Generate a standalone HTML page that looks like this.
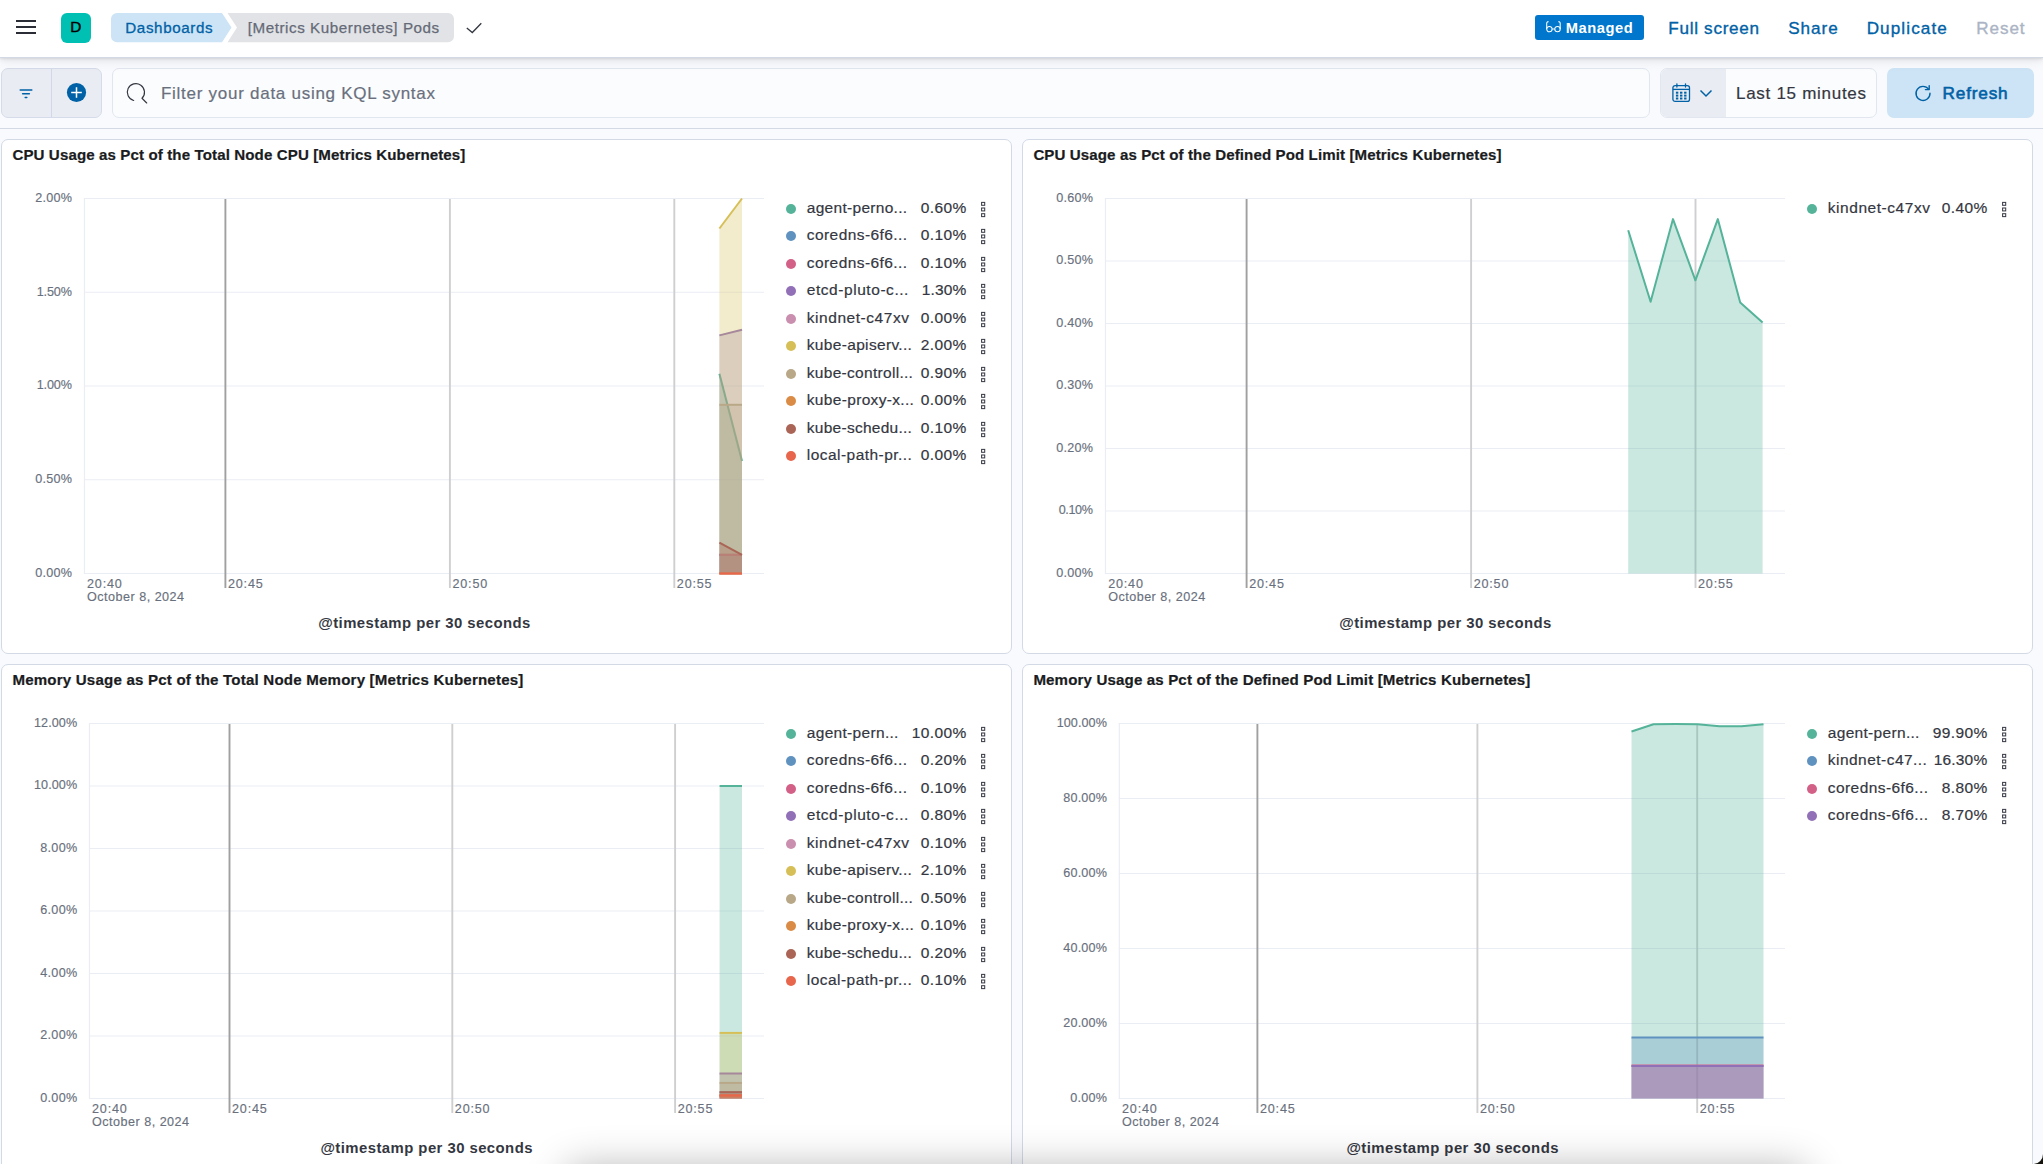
<!DOCTYPE html><html><head><meta charset="utf-8"><title>[Metrics Kubernetes] Pods</title><style>html,body{margin:0;padding:0;width:2043px;height:1164px;overflow:hidden;background:#f8fafd}#root{position:absolute;left:0;top:0;width:2043px;height:1164px;overflow:hidden;background:#f8fafd;font-family:"Liberation Sans",sans-serif}.t{position:absolute;white-space:pre;display:block}</style></head><body><div id="root">
<div id="hdr" style="position:absolute;left:0;top:0;width:2043px;height:58px;background:#fff;border-bottom:1px solid #d3dae6;box-sizing:border-box;box-shadow:0 1px 2px rgba(0,0,0,.07),0 2px 5px rgba(0,0,0,.06),0 5px 11px rgba(0,0,0,.05);z-index:5"></div>
<div style="position:absolute;left:0;top:0;width:2043px;height:57px;z-index:6">
<div style="position:absolute;left:16px;top:19.6px;width:20px;height:2.3px;background:#2b2d36"></div>
<div style="position:absolute;left:16px;top:25.8px;width:20px;height:2.3px;background:#2b2d36"></div>
<div style="position:absolute;left:16px;top:31.9px;width:20px;height:2.3px;background:#2b2d36"></div>
<div style="position:absolute;left:61px;top:13px;width:30px;height:30px;background:#00bfb3;border-radius:6px"></div>
<span class="t" style="left:70.28px;top:16.78px;font-size:15.4px;line-height:20px;letter-spacing:0.326px;color:#000;-webkit-text-stroke:.45px #000;">D</span>
<svg style="position:absolute;left:0;top:0" width="520" height="57" viewBox="0 0 520 57"><path d="M117 13 H222 L231.5 27.6 L222 42.2 H117 a6 6 0 0 1 -6 -6 V19 a6 6 0 0 1 6 -6z" fill="#cce4f5"/><path d="M227.5 13 H448 a6 6 0 0 1 6 6 V36.2 a6 6 0 0 1 -6 6 H227.5 L237 27.6z" fill="#e2e3e6"/><path d="M466.8 28 L472.3 32.5 L481.3 23.3" fill="none" stroke="#343741" stroke-width="1.3"/></svg>
<span class="t" style="left:125.29px;top:17.77px;font-size:15.2px;line-height:20px;letter-spacing:0.607px;color:#0061a6;-webkit-text-stroke:.3px #0061a6;">Dashboards</span>
<span class="t" style="left:247.69px;top:17.77px;font-size:15.2px;line-height:20px;letter-spacing:0.557px;color:#646a77;-webkit-text-stroke:.25px #646a77;">[Metrics Kubernetes] Pods</span>
<div style="position:absolute;left:1535px;top:15px;width:109px;height:25px;background:#0077cc;border-radius:3px"></div>
<svg style="position:absolute;left:1545px;top:20px" width="18" height="14" viewBox="0 0 18 14"><g fill="none" stroke="#fff" stroke-width="1.05"><circle cx="4.4" cy="9.1" r="2.7"/><circle cx="12.5" cy="9.1" r="2.7"/><path d="M7.1 9 H9.8 M1.7 9 V3.3 q0 -1.7 1.8 -1.7 M15.2 9 V3.3 q0 -1.7 -1.8 -1.7"/></g></svg>
<span class="t" style="left:1565.82px;top:19.47px;font-size:14.7px;line-height:19px;letter-spacing:0.559px;color:#fff;font-weight:700;">Managed</span>
<span class="t" style="left:1668.27px;top:17.90px;font-size:17.1px;line-height:22px;letter-spacing:0.712px;color:#0061a6;-webkit-text-stroke:.35px #0061a6;">Full screen</span>
<span class="t" style="left:1788.27px;top:17.90px;font-size:17.1px;line-height:22px;letter-spacing:0.955px;color:#0061a6;-webkit-text-stroke:.35px #0061a6;">Share</span>
<span class="t" style="left:1866.67px;top:17.90px;font-size:17.1px;line-height:22px;letter-spacing:1.108px;color:#0061a6;-webkit-text-stroke:.35px #0061a6;">Duplicate</span>
<span class="t" style="left:1976.17px;top:17.90px;font-size:17.1px;line-height:22px;letter-spacing:0.945px;color:#abb4c4;-webkit-text-stroke:.35px #abb4c4;">Reset</span>
</div>
<div style="position:absolute;left:0px;top:128px;width:2043px;height:1px;background:#d3dae6"></div>
<div style="position:absolute;left:1px;top:68px;width:101px;height:50px;background:#e9edf3;border:1px solid #d6dbe9;border-radius:7px;box-sizing:border-box"></div>
<div style="position:absolute;left:51px;top:69px;width:1px;height:48px;background:#d2d8e7"></div>
<svg style="position:absolute;left:16px;top:84px" width="20" height="20" viewBox="0 0 20 20"><g stroke="#0061a6" stroke-width="1.5" stroke-linecap="round"><path d="M4.2 6 H15.8"/><path d="M6.6 9.8 H13.4"/><path d="M9.2 13.4 H10.8"/></g></svg>
<svg style="position:absolute;left:66px;top:82px" width="22" height="22" viewBox="0 0 22 22"><circle cx="10.5" cy="10.5" r="9.6" fill="#0061a6"/><path d="M10.5 5.2 V15.8 M5.2 10.5 H15.8" stroke="#fff" stroke-width="1.5"/></svg>
<div style="position:absolute;left:112px;top:68px;width:1538px;height:50px;background:#fbfcfd;border:1px solid #e2e6ef;border-radius:7px;box-sizing:border-box"></div>
<svg style="position:absolute;left:124px;top:80px" width="28" height="28" viewBox="0 0 28 28"><g fill="none" stroke="#343741" stroke-width="1.15"><path d="M9.67 20.51 A8.6 8.6 0 1 1 17.98 18.28 L22.7 23" stroke-linecap="round" stroke-linejoin="round"/></g></svg>
<span class="t" style="left:160.98px;top:82.70px;font-size:17px;line-height:22px;letter-spacing:0.729px;color:#69707d;-webkit-text-stroke:.2px #69707d;">Filter your data using KQL syntax</span>
<div style="position:absolute;left:1660px;top:68px;width:217px;height:50px;background:#fbfcfd;border:1px solid #e2e6ef;border-radius:7px;box-sizing:border-box;overflow:hidden"></div>
<div style="position:absolute;left:1661px;top:69px;width:65px;height:48px;background:#e9edf3;border-radius:6px 0 0 6px"></div>
<svg style="position:absolute;left:1670px;top:81px" width="22" height="24" viewBox="0 0 22 24"><g fill="none" stroke="#0061a6" stroke-width="1.3"><rect x="2.9" y="4.6" width="16.6" height="15.8" rx="2.2"/><path d="M2.9 8.4 H19.5"/><path d="M6.9 2.8 V6 M15.5 2.8 V6" stroke-linecap="round"/></g><g fill="#0061a6"><rect x="5.9" y="10.7" width="2.4" height="2"/><rect x="10" y="10.7" width="2.4" height="2"/><rect x="14.1" y="10.7" width="2.4" height="2"/><rect x="5.9" y="13.6" width="2.4" height="2"/><rect x="10" y="13.6" width="2.4" height="2"/><rect x="14.1" y="13.6" width="2.4" height="2"/><rect x="5.9" y="16.5" width="2.4" height="2"/><rect x="10" y="16.5" width="2.4" height="2"/><rect x="14.1" y="16.5" width="2.4" height="2"/></g></svg>
<svg style="position:absolute;left:1698px;top:86px" width="16" height="14" viewBox="0 0 16 14"><path d="M2.5 4.5 L8 10 L13.5 4.5" fill="none" stroke="#0061a6" stroke-width="1.5"/></svg>
<span class="t" style="left:1735.98px;top:82.70px;font-size:17px;line-height:22px;letter-spacing:0.716px;color:#343741;-webkit-text-stroke:.2px #343741;">Last 15 minutes</span>
<div style="position:absolute;left:1887px;top:68px;width:147px;height:50px;background:#cce4f5;border-radius:7px"></div>
<svg style="position:absolute;left:1913px;top:83px" width="20" height="20" viewBox="0 0 20 20"><path d="M15.6 6.2 A7 7 0 1 0 17 10.2" fill="none" stroke="#0061a6" stroke-width="1.4" stroke-linecap="round"/><path d="M12.4 6.6 H16.2 V2.6" fill="none" stroke="#0061a6" stroke-width="1.4" stroke-linecap="round" stroke-linejoin="round"/></svg>
<span class="t" style="left:1942.57px;top:81.70px;font-size:17.2px;line-height:22px;letter-spacing:0.823px;color:#0061a6;-webkit-text-stroke:.6px #0061a6;">Refresh</span>
<div style="position:absolute;left:1px;top:139px;width:1011px;height:515px;background:#fff;border:1px solid #d3dae6;border-radius:7px;box-sizing:border-box"></div>
<span class="t" style="left:12.39px;top:144.67px;font-size:15.1px;line-height:20px;letter-spacing:0.108px;color:#1a1c21;font-weight:700;-webkit-text-stroke:.2px #1a1c21;">CPU Usage as Pct of the Total Node CPU [Metrics Kubernetes]</span>
<span class="t" style="left:35.24px;top:189.54px;font-size:12.6px;line-height:16px;letter-spacing:0.246px;color:#69707d;-webkit-text-stroke:.15px #69707d;">2.00%</span>
<span class="t" style="left:36.74px;top:284.29px;font-size:12.6px;line-height:16px;letter-spacing:-0.129px;color:#69707d;-webkit-text-stroke:.15px #69707d;">1.50%</span>
<span class="t" style="left:36.74px;top:377.04px;font-size:12.6px;line-height:16px;letter-spacing:-0.129px;color:#69707d;-webkit-text-stroke:.15px #69707d;">1.00%</span>
<span class="t" style="left:35.24px;top:470.79px;font-size:12.6px;line-height:16px;letter-spacing:0.246px;color:#69707d;-webkit-text-stroke:.15px #69707d;">0.50%</span>
<span class="t" style="left:35.24px;top:564.54px;font-size:12.6px;line-height:16px;letter-spacing:0.246px;color:#69707d;-webkit-text-stroke:.15px #69707d;">0.00%</span>
<svg style="position:absolute;left:0;top:0;pointer-events:none" width="2043" height="1164" viewBox="0 0 2043 1164"><path d="M84.0 198.50 H764" stroke="#eaedf4" stroke-width="1.2" fill="none"/><path d="M84.0 292.25 H764" stroke="#eaedf4" stroke-width="1.2" fill="none"/><path d="M84.0 386.00 H764" stroke="#eaedf4" stroke-width="1.2" fill="none"/><path d="M84.0 479.75 H764" stroke="#eaedf4" stroke-width="1.2" fill="none"/><path d="M84.0 573.50 H764" stroke="#eaedf4" stroke-width="1.2" fill="none"/><path d="M84.5 198.0 V574.0" stroke="#eaedf4" stroke-width="1.2" fill="none"/><path d="M225.4 199.1 V588.1" stroke="#a0a0a1" stroke-width="1.9" fill="none"/><path d="M449.9 199.1 V588.1" stroke="#cfcfd1" stroke-width="1.9" fill="none"/><path d="M674.3 199.1 V588.1" stroke="#cfcfd1" stroke-width="1.9" fill="none"/><path d="M719.4 373.8 L742.0 461.0 L742.0 573.5 L719.4 573.5 Z" fill="#54b399" fill-opacity=".3"/><path d="M719.4 373.8 L742.0 461.0" fill="none" stroke="#54b399" stroke-width="2" stroke-linejoin="round"/><path d="M719.4 554.8 L742.0 554.8 L742.0 573.5 L719.4 573.5 Z" fill="#6092c0" fill-opacity=".3"/><path d="M719.4 554.8 L742.0 554.8" fill="none" stroke="#6092c0" stroke-width="2" stroke-linejoin="round"/><path d="M719.4 554.8 L742.0 554.8 L742.0 573.5 L719.4 573.5 Z" fill="#d36086" fill-opacity=".3"/><path d="M719.4 554.8 L742.0 554.8" fill="none" stroke="#d36086" stroke-width="2" stroke-linejoin="round"/><path d="M719.4 335.4 L742.0 329.8 L742.0 573.5 L719.4 573.5 Z" fill="#9170b8" fill-opacity=".3"/><path d="M719.4 335.4 L742.0 329.8" fill="none" stroke="#9170b8" stroke-width="2" stroke-linejoin="round"/><path d="M719.4 573.5 L742.0 573.5 L742.0 573.5 L719.4 573.5 Z" fill="#ca8eae" fill-opacity=".3"/><path d="M719.4 573.5 L742.0 573.5" fill="none" stroke="#ca8eae" stroke-width="2" stroke-linejoin="round"/><path d="M719.4 228.5 L742.0 198.5 L742.0 573.5 L719.4 573.5 Z" fill="#d6bf57" fill-opacity=".3"/><path d="M719.4 228.5 L742.0 198.5" fill="none" stroke="#d6bf57" stroke-width="2" stroke-linejoin="round"/><path d="M719.4 404.8 L742.0 404.8 L742.0 573.5 L719.4 573.5 Z" fill="#b9a888" fill-opacity=".3"/><path d="M719.4 404.8 L742.0 404.8" fill="none" stroke="#b9a888" stroke-width="2" stroke-linejoin="round"/><path d="M719.4 573.5 L742.0 573.5 L742.0 573.5 L719.4 573.5 Z" fill="#da8b45" fill-opacity=".3"/><path d="M719.4 573.5 L742.0 573.5" fill="none" stroke="#da8b45" stroke-width="2" stroke-linejoin="round"/><path d="M719.4 542.6 L742.0 554.8 L742.0 573.5 L719.4 573.5 Z" fill="#aa6556" fill-opacity=".3"/><path d="M719.4 542.6 L742.0 554.8" fill="none" stroke="#aa6556" stroke-width="2" stroke-linejoin="round"/><path d="M719.4 573.5 L742.0 573.5 L742.0 573.5 L719.4 573.5 Z" fill="#e7664c" fill-opacity=".3"/><path d="M719.4 573.5 L742.0 573.5" fill="none" stroke="#e7664c" stroke-width="2" stroke-linejoin="round"/></svg>
<span class="t" style="left:87.04px;top:576.04px;font-size:12.6px;line-height:16px;letter-spacing:0.820px;color:#69707d;-webkit-text-stroke:.15px #69707d;">20:40</span>
<span class="t" style="left:87.04px;top:589.44px;font-size:12.6px;line-height:16px;letter-spacing:0.482px;color:#69707d;-webkit-text-stroke:.15px #69707d;">October 8, 2024</span>
<span class="t" style="left:227.94px;top:576.04px;font-size:12.6px;line-height:16px;letter-spacing:0.820px;color:#69707d;-webkit-text-stroke:.15px #69707d;">20:45</span>
<span class="t" style="left:452.44px;top:576.04px;font-size:12.6px;line-height:16px;letter-spacing:0.820px;color:#69707d;-webkit-text-stroke:.15px #69707d;">20:50</span>
<span class="t" style="left:676.84px;top:576.04px;font-size:12.6px;line-height:16px;letter-spacing:0.820px;color:#69707d;-webkit-text-stroke:.15px #69707d;">20:55</span>
<span class="t" style="left:318.21px;top:614.27px;font-size:14.9px;line-height:19px;letter-spacing:0.438px;color:#343741;font-weight:700;">@timestamp per 30 seconds</span>
<div style="position:absolute;left:786.1px;top:204.0px;width:10px;height:10px;background:#54b399;border-radius:50%"></div>
<span class="t" style="left:806.77px;top:198.28px;font-size:15.5px;line-height:20px;letter-spacing:0.296px;color:#343741;-webkit-text-stroke:.2px #343741;">agent-perno...</span>
<span class="t" style="left:920.67px;top:198.28px;font-size:15.5px;line-height:20px;letter-spacing:0.403px;color:#343741;-webkit-text-stroke:.2px #343741;">0.60%</span>
<svg style="position:absolute;left:979.3px;top:199.9px" width="8" height="18" viewBox="0 0 8 18"><g fill="none" stroke="#3b3e49" stroke-width="1.05"><rect x="2.6" y="2.4" width="3.1" height="2.9"/><rect x="2.6" y="8" width="3.1" height="2.9"/><rect x="2.6" y="13.7" width="3.1" height="2.9"/></g></svg>
<div style="position:absolute;left:786.1px;top:231.45px;width:10px;height:10px;background:#6092c0;border-radius:50%"></div>
<span class="t" style="left:806.77px;top:224.73px;font-size:15.5px;line-height:20px;letter-spacing:0.430px;color:#343741;-webkit-text-stroke:.2px #343741;">coredns-6f6...</span>
<span class="t" style="left:920.67px;top:224.73px;font-size:15.5px;line-height:20px;letter-spacing:0.403px;color:#343741;-webkit-text-stroke:.2px #343741;">0.10%</span>
<svg style="position:absolute;left:979.3px;top:227.3px" width="8" height="18" viewBox="0 0 8 18"><g fill="none" stroke="#3b3e49" stroke-width="1.05"><rect x="2.6" y="2.4" width="3.1" height="2.9"/><rect x="2.6" y="8" width="3.1" height="2.9"/><rect x="2.6" y="13.7" width="3.1" height="2.9"/></g></svg>
<div style="position:absolute;left:786.1px;top:258.9px;width:10px;height:10px;background:#d36086;border-radius:50%"></div>
<span class="t" style="left:806.77px;top:253.18px;font-size:15.5px;line-height:20px;letter-spacing:0.430px;color:#343741;-webkit-text-stroke:.2px #343741;">coredns-6f6...</span>
<span class="t" style="left:920.67px;top:253.18px;font-size:15.5px;line-height:20px;letter-spacing:0.403px;color:#343741;-webkit-text-stroke:.2px #343741;">0.10%</span>
<svg style="position:absolute;left:979.3px;top:254.8px" width="8" height="18" viewBox="0 0 8 18"><g fill="none" stroke="#3b3e49" stroke-width="1.05"><rect x="2.6" y="2.4" width="3.1" height="2.9"/><rect x="2.6" y="8" width="3.1" height="2.9"/><rect x="2.6" y="13.7" width="3.1" height="2.9"/></g></svg>
<div style="position:absolute;left:786.1px;top:286.35px;width:10px;height:10px;background:#9170b8;border-radius:50%"></div>
<span class="t" style="left:806.77px;top:279.63px;font-size:15.5px;line-height:20px;letter-spacing:0.554px;color:#343741;-webkit-text-stroke:.2px #343741;">etcd-pluto-c...</span>
<span class="t" style="left:921.67px;top:279.63px;font-size:15.5px;line-height:20px;letter-spacing:0.153px;color:#343741;-webkit-text-stroke:.2px #343741;">1.30%</span>
<svg style="position:absolute;left:979.3px;top:282.2px" width="8" height="18" viewBox="0 0 8 18"><g fill="none" stroke="#3b3e49" stroke-width="1.05"><rect x="2.6" y="2.4" width="3.1" height="2.9"/><rect x="2.6" y="8" width="3.1" height="2.9"/><rect x="2.6" y="13.7" width="3.1" height="2.9"/></g></svg>
<div style="position:absolute;left:786.1px;top:313.8px;width:10px;height:10px;background:#ca8eae;border-radius:50%"></div>
<span class="t" style="left:806.77px;top:308.08px;font-size:15.5px;line-height:20px;letter-spacing:0.544px;color:#343741;-webkit-text-stroke:.2px #343741;">kindnet-c47xv</span>
<span class="t" style="left:920.67px;top:308.08px;font-size:15.5px;line-height:20px;letter-spacing:0.403px;color:#343741;-webkit-text-stroke:.2px #343741;">0.00%</span>
<svg style="position:absolute;left:979.3px;top:309.7px" width="8" height="18" viewBox="0 0 8 18"><g fill="none" stroke="#3b3e49" stroke-width="1.05"><rect x="2.6" y="2.4" width="3.1" height="2.9"/><rect x="2.6" y="8" width="3.1" height="2.9"/><rect x="2.6" y="13.7" width="3.1" height="2.9"/></g></svg>
<div style="position:absolute;left:786.1px;top:341.25px;width:10px;height:10px;background:#d6bf57;border-radius:50%"></div>
<span class="t" style="left:806.77px;top:334.53px;font-size:15.5px;line-height:20px;letter-spacing:0.332px;color:#343741;-webkit-text-stroke:.2px #343741;">kube-apiserv...</span>
<span class="t" style="left:920.67px;top:334.53px;font-size:15.5px;line-height:20px;letter-spacing:0.403px;color:#343741;-webkit-text-stroke:.2px #343741;">2.00%</span>
<svg style="position:absolute;left:979.3px;top:337.1px" width="8" height="18" viewBox="0 0 8 18"><g fill="none" stroke="#3b3e49" stroke-width="1.05"><rect x="2.6" y="2.4" width="3.1" height="2.9"/><rect x="2.6" y="8" width="3.1" height="2.9"/><rect x="2.6" y="13.7" width="3.1" height="2.9"/></g></svg>
<div style="position:absolute;left:786.1px;top:368.7px;width:10px;height:10px;background:#b9a888;border-radius:50%"></div>
<span class="t" style="left:806.77px;top:362.98px;font-size:15.5px;line-height:20px;letter-spacing:0.300px;color:#343741;-webkit-text-stroke:.2px #343741;">kube-controll...</span>
<span class="t" style="left:920.67px;top:362.98px;font-size:15.5px;line-height:20px;letter-spacing:0.403px;color:#343741;-webkit-text-stroke:.2px #343741;">0.90%</span>
<svg style="position:absolute;left:979.3px;top:364.6px" width="8" height="18" viewBox="0 0 8 18"><g fill="none" stroke="#3b3e49" stroke-width="1.05"><rect x="2.6" y="2.4" width="3.1" height="2.9"/><rect x="2.6" y="8" width="3.1" height="2.9"/><rect x="2.6" y="13.7" width="3.1" height="2.9"/></g></svg>
<div style="position:absolute;left:786.1px;top:396.15px;width:10px;height:10px;background:#da8b45;border-radius:50%"></div>
<span class="t" style="left:806.77px;top:390.43px;font-size:15.5px;line-height:20px;letter-spacing:0.332px;color:#343741;-webkit-text-stroke:.2px #343741;">kube-proxy-x...</span>
<span class="t" style="left:920.67px;top:390.43px;font-size:15.5px;line-height:20px;letter-spacing:0.403px;color:#343741;-webkit-text-stroke:.2px #343741;">0.00%</span>
<svg style="position:absolute;left:979.3px;top:392.0px" width="8" height="18" viewBox="0 0 8 18"><g fill="none" stroke="#3b3e49" stroke-width="1.05"><rect x="2.6" y="2.4" width="3.1" height="2.9"/><rect x="2.6" y="8" width="3.1" height="2.9"/><rect x="2.6" y="13.7" width="3.1" height="2.9"/></g></svg>
<div style="position:absolute;left:786.1px;top:423.6px;width:10px;height:10px;background:#aa6556;border-radius:50%"></div>
<span class="t" style="left:806.77px;top:417.88px;font-size:15.5px;line-height:20px;letter-spacing:0.268px;color:#343741;-webkit-text-stroke:.2px #343741;">kube-schedu...</span>
<span class="t" style="left:920.67px;top:417.88px;font-size:15.5px;line-height:20px;letter-spacing:0.403px;color:#343741;-webkit-text-stroke:.2px #343741;">0.10%</span>
<svg style="position:absolute;left:979.3px;top:419.5px" width="8" height="18" viewBox="0 0 8 18"><g fill="none" stroke="#3b3e49" stroke-width="1.05"><rect x="2.6" y="2.4" width="3.1" height="2.9"/><rect x="2.6" y="8" width="3.1" height="2.9"/><rect x="2.6" y="13.7" width="3.1" height="2.9"/></g></svg>
<div style="position:absolute;left:786.1px;top:451.04999999999995px;width:10px;height:10px;background:#e7664c;border-radius:50%"></div>
<span class="t" style="left:806.77px;top:445.33px;font-size:15.5px;line-height:20px;letter-spacing:0.463px;color:#343741;-webkit-text-stroke:.2px #343741;">local-path-pr...</span>
<span class="t" style="left:920.67px;top:445.33px;font-size:15.5px;line-height:20px;letter-spacing:0.403px;color:#343741;-webkit-text-stroke:.2px #343741;">0.00%</span>
<svg style="position:absolute;left:979.3px;top:446.9px" width="8" height="18" viewBox="0 0 8 18"><g fill="none" stroke="#3b3e49" stroke-width="1.05"><rect x="2.6" y="2.4" width="3.1" height="2.9"/><rect x="2.6" y="8" width="3.1" height="2.9"/><rect x="2.6" y="13.7" width="3.1" height="2.9"/></g></svg>
<div style="position:absolute;left:1022px;top:139px;width:1011px;height:515px;background:#fff;border:1px solid #d3dae6;border-radius:7px;box-sizing:border-box"></div>
<span class="t" style="left:1033.39px;top:144.67px;font-size:15.1px;line-height:20px;letter-spacing:0.097px;color:#1a1c21;font-weight:700;-webkit-text-stroke:.2px #1a1c21;">CPU Usage as Pct of the Defined Pod Limit [Metrics Kubernetes]</span>
<span class="t" style="left:1056.24px;top:189.54px;font-size:12.6px;line-height:16px;letter-spacing:0.246px;color:#69707d;-webkit-text-stroke:.15px #69707d;">0.60%</span>
<span class="t" style="left:1056.24px;top:252.04px;font-size:12.6px;line-height:16px;letter-spacing:0.246px;color:#69707d;-webkit-text-stroke:.15px #69707d;">0.50%</span>
<span class="t" style="left:1056.24px;top:314.54px;font-size:12.6px;line-height:16px;letter-spacing:0.246px;color:#69707d;-webkit-text-stroke:.15px #69707d;">0.40%</span>
<span class="t" style="left:1056.24px;top:377.04px;font-size:12.6px;line-height:16px;letter-spacing:0.246px;color:#69707d;-webkit-text-stroke:.15px #69707d;">0.30%</span>
<span class="t" style="left:1056.24px;top:439.54px;font-size:12.6px;line-height:16px;letter-spacing:0.246px;color:#69707d;-webkit-text-stroke:.15px #69707d;">0.20%</span>
<span class="t" style="left:1058.64px;top:502.04px;font-size:12.6px;line-height:16px;letter-spacing:-0.354px;color:#69707d;-webkit-text-stroke:.15px #69707d;">0.10%</span>
<span class="t" style="left:1056.24px;top:564.54px;font-size:12.6px;line-height:16px;letter-spacing:0.246px;color:#69707d;-webkit-text-stroke:.15px #69707d;">0.00%</span>
<svg style="position:absolute;left:0;top:0;pointer-events:none" width="2043" height="1164" viewBox="0 0 2043 1164"><path d="M1105.0 198.50 H1785" stroke="#eaedf4" stroke-width="1.2" fill="none"/><path d="M1105.0 261.00 H1785" stroke="#eaedf4" stroke-width="1.2" fill="none"/><path d="M1105.0 323.50 H1785" stroke="#eaedf4" stroke-width="1.2" fill="none"/><path d="M1105.0 386.00 H1785" stroke="#eaedf4" stroke-width="1.2" fill="none"/><path d="M1105.0 448.50 H1785" stroke="#eaedf4" stroke-width="1.2" fill="none"/><path d="M1105.0 511.00 H1785" stroke="#eaedf4" stroke-width="1.2" fill="none"/><path d="M1105.0 573.50 H1785" stroke="#eaedf4" stroke-width="1.2" fill="none"/><path d="M1105.5 198.0 V574.0" stroke="#eaedf4" stroke-width="1.2" fill="none"/><path d="M1246.6 199.1 V588.1" stroke="#a0a0a1" stroke-width="1.9" fill="none"/><path d="M1471.1 199.1 V588.1" stroke="#cfcfd1" stroke-width="1.9" fill="none"/><path d="M1695.5 199.1 V588.1" stroke="#cfcfd1" stroke-width="1.9" fill="none"/><path d="M1628.2 230.2 L1650.6 301.7 L1673.0 219.1 L1695.4 280.3 L1717.8 219.1 L1740.2 302.5 L1762.6 322.6 L1762.6 573.5 L1628.2 573.5 Z" fill="#54b399" fill-opacity=".3"/><path d="M1628.2 230.2 L1650.6 301.7 L1673.0 219.1 L1695.4 280.3 L1717.8 219.1 L1740.2 302.5 L1762.6 322.6" fill="none" stroke="#54b399" stroke-width="2" stroke-linejoin="round"/></svg>
<span class="t" style="left:1108.14px;top:576.04px;font-size:12.6px;line-height:16px;letter-spacing:0.820px;color:#69707d;-webkit-text-stroke:.15px #69707d;">20:40</span>
<span class="t" style="left:1108.14px;top:589.44px;font-size:12.6px;line-height:16px;letter-spacing:0.482px;color:#69707d;-webkit-text-stroke:.15px #69707d;">October 8, 2024</span>
<span class="t" style="left:1249.14px;top:576.04px;font-size:12.6px;line-height:16px;letter-spacing:0.820px;color:#69707d;-webkit-text-stroke:.15px #69707d;">20:45</span>
<span class="t" style="left:1473.64px;top:576.04px;font-size:12.6px;line-height:16px;letter-spacing:0.820px;color:#69707d;-webkit-text-stroke:.15px #69707d;">20:50</span>
<span class="t" style="left:1698.04px;top:576.04px;font-size:12.6px;line-height:16px;letter-spacing:0.820px;color:#69707d;-webkit-text-stroke:.15px #69707d;">20:55</span>
<span class="t" style="left:1339.21px;top:614.27px;font-size:14.9px;line-height:19px;letter-spacing:0.438px;color:#343741;font-weight:700;">@timestamp per 30 seconds</span>
<div style="position:absolute;left:1807.1px;top:204.0px;width:10px;height:10px;background:#54b399;border-radius:50%"></div>
<span class="t" style="left:1827.77px;top:198.28px;font-size:15.5px;line-height:20px;letter-spacing:0.544px;color:#343741;-webkit-text-stroke:.2px #343741;">kindnet-c47xv</span>
<span class="t" style="left:1941.67px;top:198.28px;font-size:15.5px;line-height:20px;letter-spacing:0.403px;color:#343741;-webkit-text-stroke:.2px #343741;">0.40%</span>
<svg style="position:absolute;left:2000.3px;top:199.9px" width="8" height="18" viewBox="0 0 8 18"><g fill="none" stroke="#3b3e49" stroke-width="1.05"><rect x="2.6" y="2.4" width="3.1" height="2.9"/><rect x="2.6" y="8" width="3.1" height="2.9"/><rect x="2.6" y="13.7" width="3.1" height="2.9"/></g></svg>
<div style="position:absolute;left:1px;top:664px;width:1011px;height:515px;background:#fff;border:1px solid #d3dae6;border-radius:7px;box-sizing:border-box"></div>
<span class="t" style="left:12.39px;top:669.67px;font-size:15.1px;line-height:20px;letter-spacing:0.191px;color:#1a1c21;font-weight:700;-webkit-text-stroke:.2px #1a1c21;">Memory Usage as Pct of the Total Node Memory [Metrics Kubernetes]</span>
<span class="t" style="left:34.04px;top:714.54px;font-size:12.6px;line-height:16px;letter-spacing:0.075px;color:#69707d;-webkit-text-stroke:.15px #69707d;">12.00%</span>
<span class="t" style="left:34.04px;top:777.04px;font-size:12.6px;line-height:16px;letter-spacing:0.075px;color:#69707d;-webkit-text-stroke:.15px #69707d;">10.00%</span>
<span class="t" style="left:40.24px;top:839.54px;font-size:12.6px;line-height:16px;letter-spacing:0.296px;color:#69707d;-webkit-text-stroke:.15px #69707d;">8.00%</span>
<span class="t" style="left:40.24px;top:902.04px;font-size:12.6px;line-height:16px;letter-spacing:0.296px;color:#69707d;-webkit-text-stroke:.15px #69707d;">6.00%</span>
<span class="t" style="left:40.24px;top:964.54px;font-size:12.6px;line-height:16px;letter-spacing:0.296px;color:#69707d;-webkit-text-stroke:.15px #69707d;">4.00%</span>
<span class="t" style="left:40.24px;top:1027.04px;font-size:12.6px;line-height:16px;letter-spacing:0.296px;color:#69707d;-webkit-text-stroke:.15px #69707d;">2.00%</span>
<span class="t" style="left:40.24px;top:1089.54px;font-size:12.6px;line-height:16px;letter-spacing:0.296px;color:#69707d;-webkit-text-stroke:.15px #69707d;">0.00%</span>
<svg style="position:absolute;left:0;top:0;pointer-events:none" width="2043" height="1164" viewBox="0 0 2043 1164"><path d="M89.0 723.50 H764" stroke="#eaedf4" stroke-width="1.2" fill="none"/><path d="M89.0 786.00 H764" stroke="#eaedf4" stroke-width="1.2" fill="none"/><path d="M89.0 848.50 H764" stroke="#eaedf4" stroke-width="1.2" fill="none"/><path d="M89.0 911.00 H764" stroke="#eaedf4" stroke-width="1.2" fill="none"/><path d="M89.0 973.50 H764" stroke="#eaedf4" stroke-width="1.2" fill="none"/><path d="M89.0 1036.00 H764" stroke="#eaedf4" stroke-width="1.2" fill="none"/><path d="M89.0 1098.50 H764" stroke="#eaedf4" stroke-width="1.2" fill="none"/><path d="M89.5 723.0 V1099.0" stroke="#eaedf4" stroke-width="1.2" fill="none"/><path d="M229.5 724.1 V1113.1" stroke="#a0a0a1" stroke-width="1.9" fill="none"/><path d="M452.3 724.1 V1113.1" stroke="#cfcfd1" stroke-width="1.9" fill="none"/><path d="M675.1 724.1 V1113.1" stroke="#cfcfd1" stroke-width="1.9" fill="none"/><path d="M719.6 786.0 L742.0 786.0 L742.0 1098.5 L719.6 1098.5 Z" fill="#54b399" fill-opacity=".3"/><path d="M719.6 786.0 L742.0 786.0" fill="none" stroke="#54b399" stroke-width="2" stroke-linejoin="round"/><path d="M719.6 1092.2 L742.0 1092.2 L742.0 1098.5 L719.6 1098.5 Z" fill="#6092c0" fill-opacity=".3"/><path d="M719.6 1092.2 L742.0 1092.2" fill="none" stroke="#6092c0" stroke-width="2" stroke-linejoin="round"/><path d="M719.6 1095.4 L742.0 1095.4 L742.0 1098.5 L719.6 1098.5 Z" fill="#d36086" fill-opacity=".3"/><path d="M719.6 1095.4 L742.0 1095.4" fill="none" stroke="#d36086" stroke-width="2" stroke-linejoin="round"/><path d="M719.6 1073.5 L742.0 1073.5 L742.0 1098.5 L719.6 1098.5 Z" fill="#9170b8" fill-opacity=".3"/><path d="M719.6 1073.5 L742.0 1073.5" fill="none" stroke="#9170b8" stroke-width="2" stroke-linejoin="round"/><path d="M719.6 1095.4 L742.0 1095.4 L742.0 1098.5 L719.6 1098.5 Z" fill="#ca8eae" fill-opacity=".3"/><path d="M719.6 1095.4 L742.0 1095.4" fill="none" stroke="#ca8eae" stroke-width="2" stroke-linejoin="round"/><path d="M719.6 1032.9 L742.0 1032.9 L742.0 1098.5 L719.6 1098.5 Z" fill="#d6bf57" fill-opacity=".3"/><path d="M719.6 1032.9 L742.0 1032.9" fill="none" stroke="#d6bf57" stroke-width="2" stroke-linejoin="round"/><path d="M719.6 1082.9 L742.0 1082.9 L742.0 1098.5 L719.6 1098.5 Z" fill="#b9a888" fill-opacity=".3"/><path d="M719.6 1082.9 L742.0 1082.9" fill="none" stroke="#b9a888" stroke-width="2" stroke-linejoin="round"/><path d="M719.6 1095.4 L742.0 1095.4 L742.0 1098.5 L719.6 1098.5 Z" fill="#da8b45" fill-opacity=".3"/><path d="M719.6 1095.4 L742.0 1095.4" fill="none" stroke="#da8b45" stroke-width="2" stroke-linejoin="round"/><path d="M719.6 1092.2 L742.0 1092.2 L742.0 1098.5 L719.6 1098.5 Z" fill="#aa6556" fill-opacity=".3"/><path d="M719.6 1092.2 L742.0 1092.2" fill="none" stroke="#aa6556" stroke-width="2" stroke-linejoin="round"/><path d="M719.6 1095.4 L742.0 1095.4 L742.0 1098.5 L719.6 1098.5 Z" fill="#e7664c" fill-opacity=".3"/><path d="M719.6 1095.4 L742.0 1095.4" fill="none" stroke="#e7664c" stroke-width="2" stroke-linejoin="round"/></svg>
<span class="t" style="left:92.04px;top:1101.04px;font-size:12.6px;line-height:16px;letter-spacing:0.820px;color:#69707d;-webkit-text-stroke:.15px #69707d;">20:40</span>
<span class="t" style="left:92.04px;top:1114.44px;font-size:12.6px;line-height:16px;letter-spacing:0.482px;color:#69707d;-webkit-text-stroke:.15px #69707d;">October 8, 2024</span>
<span class="t" style="left:232.04px;top:1101.04px;font-size:12.6px;line-height:16px;letter-spacing:0.820px;color:#69707d;-webkit-text-stroke:.15px #69707d;">20:45</span>
<span class="t" style="left:454.84px;top:1101.04px;font-size:12.6px;line-height:16px;letter-spacing:0.820px;color:#69707d;-webkit-text-stroke:.15px #69707d;">20:50</span>
<span class="t" style="left:677.64px;top:1101.04px;font-size:12.6px;line-height:16px;letter-spacing:0.820px;color:#69707d;-webkit-text-stroke:.15px #69707d;">20:55</span>
<span class="t" style="left:320.41px;top:1139.27px;font-size:14.9px;line-height:19px;letter-spacing:0.438px;color:#343741;font-weight:700;">@timestamp per 30 seconds</span>
<div style="position:absolute;left:786.1px;top:729.0px;width:10px;height:10px;background:#54b399;border-radius:50%"></div>
<span class="t" style="left:806.77px;top:723.28px;font-size:15.5px;line-height:20px;letter-spacing:0.314px;color:#343741;-webkit-text-stroke:.2px #343741;">agent-pern...</span>
<span class="t" style="left:911.67px;top:723.28px;font-size:15.5px;line-height:20px;letter-spacing:0.398px;color:#343741;-webkit-text-stroke:.2px #343741;">10.00%</span>
<svg style="position:absolute;left:979.3px;top:724.9px" width="8" height="18" viewBox="0 0 8 18"><g fill="none" stroke="#3b3e49" stroke-width="1.05"><rect x="2.6" y="2.4" width="3.1" height="2.9"/><rect x="2.6" y="8" width="3.1" height="2.9"/><rect x="2.6" y="13.7" width="3.1" height="2.9"/></g></svg>
<div style="position:absolute;left:786.1px;top:756.45px;width:10px;height:10px;background:#6092c0;border-radius:50%"></div>
<span class="t" style="left:806.77px;top:749.73px;font-size:15.5px;line-height:20px;letter-spacing:0.430px;color:#343741;-webkit-text-stroke:.2px #343741;">coredns-6f6...</span>
<span class="t" style="left:920.67px;top:749.73px;font-size:15.5px;line-height:20px;letter-spacing:0.403px;color:#343741;-webkit-text-stroke:.2px #343741;">0.20%</span>
<svg style="position:absolute;left:979.3px;top:752.4px" width="8" height="18" viewBox="0 0 8 18"><g fill="none" stroke="#3b3e49" stroke-width="1.05"><rect x="2.6" y="2.4" width="3.1" height="2.9"/><rect x="2.6" y="8" width="3.1" height="2.9"/><rect x="2.6" y="13.7" width="3.1" height="2.9"/></g></svg>
<div style="position:absolute;left:786.1px;top:783.9px;width:10px;height:10px;background:#d36086;border-radius:50%"></div>
<span class="t" style="left:806.77px;top:778.18px;font-size:15.5px;line-height:20px;letter-spacing:0.430px;color:#343741;-webkit-text-stroke:.2px #343741;">coredns-6f6...</span>
<span class="t" style="left:920.67px;top:778.18px;font-size:15.5px;line-height:20px;letter-spacing:0.403px;color:#343741;-webkit-text-stroke:.2px #343741;">0.10%</span>
<svg style="position:absolute;left:979.3px;top:779.8px" width="8" height="18" viewBox="0 0 8 18"><g fill="none" stroke="#3b3e49" stroke-width="1.05"><rect x="2.6" y="2.4" width="3.1" height="2.9"/><rect x="2.6" y="8" width="3.1" height="2.9"/><rect x="2.6" y="13.7" width="3.1" height="2.9"/></g></svg>
<div style="position:absolute;left:786.1px;top:811.35px;width:10px;height:10px;background:#9170b8;border-radius:50%"></div>
<span class="t" style="left:806.77px;top:804.63px;font-size:15.5px;line-height:20px;letter-spacing:0.554px;color:#343741;-webkit-text-stroke:.2px #343741;">etcd-pluto-c...</span>
<span class="t" style="left:920.67px;top:804.63px;font-size:15.5px;line-height:20px;letter-spacing:0.403px;color:#343741;-webkit-text-stroke:.2px #343741;">0.80%</span>
<svg style="position:absolute;left:979.3px;top:807.2px" width="8" height="18" viewBox="0 0 8 18"><g fill="none" stroke="#3b3e49" stroke-width="1.05"><rect x="2.6" y="2.4" width="3.1" height="2.9"/><rect x="2.6" y="8" width="3.1" height="2.9"/><rect x="2.6" y="13.7" width="3.1" height="2.9"/></g></svg>
<div style="position:absolute;left:786.1px;top:838.8px;width:10px;height:10px;background:#ca8eae;border-radius:50%"></div>
<span class="t" style="left:806.77px;top:833.08px;font-size:15.5px;line-height:20px;letter-spacing:0.544px;color:#343741;-webkit-text-stroke:.2px #343741;">kindnet-c47xv</span>
<span class="t" style="left:920.67px;top:833.08px;font-size:15.5px;line-height:20px;letter-spacing:0.403px;color:#343741;-webkit-text-stroke:.2px #343741;">0.10%</span>
<svg style="position:absolute;left:979.3px;top:834.7px" width="8" height="18" viewBox="0 0 8 18"><g fill="none" stroke="#3b3e49" stroke-width="1.05"><rect x="2.6" y="2.4" width="3.1" height="2.9"/><rect x="2.6" y="8" width="3.1" height="2.9"/><rect x="2.6" y="13.7" width="3.1" height="2.9"/></g></svg>
<div style="position:absolute;left:786.1px;top:866.25px;width:10px;height:10px;background:#d6bf57;border-radius:50%"></div>
<span class="t" style="left:806.77px;top:859.53px;font-size:15.5px;line-height:20px;letter-spacing:0.332px;color:#343741;-webkit-text-stroke:.2px #343741;">kube-apiserv...</span>
<span class="t" style="left:920.67px;top:859.53px;font-size:15.5px;line-height:20px;letter-spacing:0.403px;color:#343741;-webkit-text-stroke:.2px #343741;">2.10%</span>
<svg style="position:absolute;left:979.3px;top:862.1px" width="8" height="18" viewBox="0 0 8 18"><g fill="none" stroke="#3b3e49" stroke-width="1.05"><rect x="2.6" y="2.4" width="3.1" height="2.9"/><rect x="2.6" y="8" width="3.1" height="2.9"/><rect x="2.6" y="13.7" width="3.1" height="2.9"/></g></svg>
<div style="position:absolute;left:786.1px;top:893.7px;width:10px;height:10px;background:#b9a888;border-radius:50%"></div>
<span class="t" style="left:806.77px;top:887.98px;font-size:15.5px;line-height:20px;letter-spacing:0.300px;color:#343741;-webkit-text-stroke:.2px #343741;">kube-controll...</span>
<span class="t" style="left:920.67px;top:887.98px;font-size:15.5px;line-height:20px;letter-spacing:0.403px;color:#343741;-webkit-text-stroke:.2px #343741;">0.50%</span>
<svg style="position:absolute;left:979.3px;top:889.6px" width="8" height="18" viewBox="0 0 8 18"><g fill="none" stroke="#3b3e49" stroke-width="1.05"><rect x="2.6" y="2.4" width="3.1" height="2.9"/><rect x="2.6" y="8" width="3.1" height="2.9"/><rect x="2.6" y="13.7" width="3.1" height="2.9"/></g></svg>
<div style="position:absolute;left:786.1px;top:921.15px;width:10px;height:10px;background:#da8b45;border-radius:50%"></div>
<span class="t" style="left:806.77px;top:915.43px;font-size:15.5px;line-height:20px;letter-spacing:0.332px;color:#343741;-webkit-text-stroke:.2px #343741;">kube-proxy-x...</span>
<span class="t" style="left:920.67px;top:915.43px;font-size:15.5px;line-height:20px;letter-spacing:0.403px;color:#343741;-webkit-text-stroke:.2px #343741;">0.10%</span>
<svg style="position:absolute;left:979.3px;top:917.0px" width="8" height="18" viewBox="0 0 8 18"><g fill="none" stroke="#3b3e49" stroke-width="1.05"><rect x="2.6" y="2.4" width="3.1" height="2.9"/><rect x="2.6" y="8" width="3.1" height="2.9"/><rect x="2.6" y="13.7" width="3.1" height="2.9"/></g></svg>
<div style="position:absolute;left:786.1px;top:948.6px;width:10px;height:10px;background:#aa6556;border-radius:50%"></div>
<span class="t" style="left:806.77px;top:942.88px;font-size:15.5px;line-height:20px;letter-spacing:0.268px;color:#343741;-webkit-text-stroke:.2px #343741;">kube-schedu...</span>
<span class="t" style="left:920.67px;top:942.88px;font-size:15.5px;line-height:20px;letter-spacing:0.403px;color:#343741;-webkit-text-stroke:.2px #343741;">0.20%</span>
<svg style="position:absolute;left:979.3px;top:944.5px" width="8" height="18" viewBox="0 0 8 18"><g fill="none" stroke="#3b3e49" stroke-width="1.05"><rect x="2.6" y="2.4" width="3.1" height="2.9"/><rect x="2.6" y="8" width="3.1" height="2.9"/><rect x="2.6" y="13.7" width="3.1" height="2.9"/></g></svg>
<div style="position:absolute;left:786.1px;top:976.05px;width:10px;height:10px;background:#e7664c;border-radius:50%"></div>
<span class="t" style="left:806.77px;top:970.33px;font-size:15.5px;line-height:20px;letter-spacing:0.463px;color:#343741;-webkit-text-stroke:.2px #343741;">local-path-pr...</span>
<span class="t" style="left:920.67px;top:970.33px;font-size:15.5px;line-height:20px;letter-spacing:0.403px;color:#343741;-webkit-text-stroke:.2px #343741;">0.10%</span>
<svg style="position:absolute;left:979.3px;top:971.9px" width="8" height="18" viewBox="0 0 8 18"><g fill="none" stroke="#3b3e49" stroke-width="1.05"><rect x="2.6" y="2.4" width="3.1" height="2.9"/><rect x="2.6" y="8" width="3.1" height="2.9"/><rect x="2.6" y="13.7" width="3.1" height="2.9"/></g></svg>
<div style="position:absolute;left:1022px;top:664px;width:1011px;height:515px;background:#fff;border:1px solid #d3dae6;border-radius:7px;box-sizing:border-box"></div>
<span class="t" style="left:1033.39px;top:669.67px;font-size:15.1px;line-height:20px;letter-spacing:0.139px;color:#1a1c21;font-weight:700;-webkit-text-stroke:.2px #1a1c21;">Memory Usage as Pct of the Defined Pod Limit [Metrics Kubernetes]</span>
<span class="t" style="left:1056.64px;top:714.54px;font-size:12.6px;line-height:16px;letter-spacing:0.095px;color:#69707d;-webkit-text-stroke:.15px #69707d;">100.00%</span>
<span class="t" style="left:1063.24px;top:789.54px;font-size:12.6px;line-height:16px;letter-spacing:0.195px;color:#69707d;-webkit-text-stroke:.15px #69707d;">80.00%</span>
<span class="t" style="left:1063.24px;top:864.54px;font-size:12.6px;line-height:16px;letter-spacing:0.195px;color:#69707d;-webkit-text-stroke:.15px #69707d;">60.00%</span>
<span class="t" style="left:1063.24px;top:939.54px;font-size:12.6px;line-height:16px;letter-spacing:0.195px;color:#69707d;-webkit-text-stroke:.15px #69707d;">40.00%</span>
<span class="t" style="left:1063.24px;top:1014.54px;font-size:12.6px;line-height:16px;letter-spacing:0.195px;color:#69707d;-webkit-text-stroke:.15px #69707d;">20.00%</span>
<span class="t" style="left:1070.24px;top:1089.54px;font-size:12.6px;line-height:16px;letter-spacing:0.246px;color:#69707d;-webkit-text-stroke:.15px #69707d;">0.00%</span>
<svg style="position:absolute;left:0;top:0;pointer-events:none" width="2043" height="1164" viewBox="0 0 2043 1164"><path d="M1118.8 723.50 H1785" stroke="#eaedf4" stroke-width="1.2" fill="none"/><path d="M1118.8 798.50 H1785" stroke="#eaedf4" stroke-width="1.2" fill="none"/><path d="M1118.8 873.50 H1785" stroke="#eaedf4" stroke-width="1.2" fill="none"/><path d="M1118.8 948.50 H1785" stroke="#eaedf4" stroke-width="1.2" fill="none"/><path d="M1118.8 1023.50 H1785" stroke="#eaedf4" stroke-width="1.2" fill="none"/><path d="M1118.8 1098.50 H1785" stroke="#eaedf4" stroke-width="1.2" fill="none"/><path d="M1119.3 723.0 V1099.0" stroke="#eaedf4" stroke-width="1.2" fill="none"/><path d="M1257.4 724.1 V1113.1" stroke="#a0a0a1" stroke-width="1.9" fill="none"/><path d="M1477.4 724.1 V1113.1" stroke="#cfcfd1" stroke-width="1.9" fill="none"/><path d="M1697.2 724.1 V1113.1" stroke="#cfcfd1" stroke-width="1.9" fill="none"/><path d="M1631.5 731.5 L1653.5 724.2 L1675.5 724.0 L1697.5 724.2 L1719.5 726.3 L1741.5 726.3 L1763.5 724.2 L1763.5 1098.5 L1631.5 1098.5 Z" fill="#54b399" fill-opacity=".3"/><path d="M1631.5 731.5 L1653.5 724.2 L1675.5 724.0 L1697.5 724.2 L1719.5 726.3 L1741.5 726.3 L1763.5 724.2" fill="none" stroke="#54b399" stroke-width="2" stroke-linejoin="round"/><path d="M1631.5 1037.4 L1653.5 1037.4 L1675.5 1037.4 L1697.5 1037.4 L1719.5 1037.4 L1741.5 1037.4 L1763.5 1037.4 L1763.5 1098.5 L1631.5 1098.5 Z" fill="#6092c0" fill-opacity=".3"/><path d="M1631.5 1037.4 L1653.5 1037.4 L1675.5 1037.4 L1697.5 1037.4 L1719.5 1037.4 L1741.5 1037.4 L1763.5 1037.4" fill="none" stroke="#6092c0" stroke-width="2" stroke-linejoin="round"/><path d="M1631.5 1065.5 L1653.5 1065.5 L1675.5 1065.5 L1697.5 1065.5 L1719.5 1065.5 L1741.5 1065.5 L1763.5 1065.5 L1763.5 1098.5 L1631.5 1098.5 Z" fill="#d36086" fill-opacity=".3"/><path d="M1631.5 1065.5 L1653.5 1065.5 L1675.5 1065.5 L1697.5 1065.5 L1719.5 1065.5 L1741.5 1065.5 L1763.5 1065.5" fill="none" stroke="#d36086" stroke-width="2" stroke-linejoin="round"/><path d="M1631.5 1065.9 L1653.5 1065.9 L1675.5 1065.9 L1697.5 1065.9 L1719.5 1065.9 L1741.5 1065.9 L1763.5 1065.9 L1763.5 1098.5 L1631.5 1098.5 Z" fill="#9170b8" fill-opacity=".3"/><path d="M1631.5 1065.9 L1653.5 1065.9 L1675.5 1065.9 L1697.5 1065.9 L1719.5 1065.9 L1741.5 1065.9 L1763.5 1065.9" fill="none" stroke="#9170b8" stroke-width="2" stroke-linejoin="round"/></svg>
<span class="t" style="left:1122.04px;top:1101.04px;font-size:12.6px;line-height:16px;letter-spacing:0.820px;color:#69707d;-webkit-text-stroke:.15px #69707d;">20:40</span>
<span class="t" style="left:1122.04px;top:1114.44px;font-size:12.6px;line-height:16px;letter-spacing:0.482px;color:#69707d;-webkit-text-stroke:.15px #69707d;">October 8, 2024</span>
<span class="t" style="left:1259.94px;top:1101.04px;font-size:12.6px;line-height:16px;letter-spacing:0.820px;color:#69707d;-webkit-text-stroke:.15px #69707d;">20:45</span>
<span class="t" style="left:1479.94px;top:1101.04px;font-size:12.6px;line-height:16px;letter-spacing:0.820px;color:#69707d;-webkit-text-stroke:.15px #69707d;">20:50</span>
<span class="t" style="left:1699.74px;top:1101.04px;font-size:12.6px;line-height:16px;letter-spacing:0.820px;color:#69707d;-webkit-text-stroke:.15px #69707d;">20:55</span>
<span class="t" style="left:1346.41px;top:1139.27px;font-size:14.9px;line-height:19px;letter-spacing:0.438px;color:#343741;font-weight:700;">@timestamp per 30 seconds</span>
<div style="position:absolute;left:1807.1px;top:729.0px;width:10px;height:10px;background:#54b399;border-radius:50%"></div>
<span class="t" style="left:1827.77px;top:723.28px;font-size:15.5px;line-height:20px;letter-spacing:0.314px;color:#343741;-webkit-text-stroke:.2px #343741;">agent-pern...</span>
<span class="t" style="left:1932.67px;top:723.28px;font-size:15.5px;line-height:20px;letter-spacing:0.398px;color:#343741;-webkit-text-stroke:.2px #343741;">99.90%</span>
<svg style="position:absolute;left:2000.3px;top:724.9px" width="8" height="18" viewBox="0 0 8 18"><g fill="none" stroke="#3b3e49" stroke-width="1.05"><rect x="2.6" y="2.4" width="3.1" height="2.9"/><rect x="2.6" y="8" width="3.1" height="2.9"/><rect x="2.6" y="13.7" width="3.1" height="2.9"/></g></svg>
<div style="position:absolute;left:1807.1px;top:756.45px;width:10px;height:10px;background:#6092c0;border-radius:50%"></div>
<span class="t" style="left:1827.77px;top:749.73px;font-size:15.5px;line-height:20px;letter-spacing:0.470px;color:#343741;-webkit-text-stroke:.2px #343741;">kindnet-c47...</span>
<span class="t" style="left:1933.67px;top:749.73px;font-size:15.5px;line-height:20px;letter-spacing:0.198px;color:#343741;-webkit-text-stroke:.2px #343741;">16.30%</span>
<svg style="position:absolute;left:2000.3px;top:752.4px" width="8" height="18" viewBox="0 0 8 18"><g fill="none" stroke="#3b3e49" stroke-width="1.05"><rect x="2.6" y="2.4" width="3.1" height="2.9"/><rect x="2.6" y="8" width="3.1" height="2.9"/><rect x="2.6" y="13.7" width="3.1" height="2.9"/></g></svg>
<div style="position:absolute;left:1807.1px;top:783.9px;width:10px;height:10px;background:#d36086;border-radius:50%"></div>
<span class="t" style="left:1827.77px;top:778.18px;font-size:15.5px;line-height:20px;letter-spacing:0.430px;color:#343741;-webkit-text-stroke:.2px #343741;">coredns-6f6...</span>
<span class="t" style="left:1941.67px;top:778.18px;font-size:15.5px;line-height:20px;letter-spacing:0.403px;color:#343741;-webkit-text-stroke:.2px #343741;">8.80%</span>
<svg style="position:absolute;left:2000.3px;top:779.8px" width="8" height="18" viewBox="0 0 8 18"><g fill="none" stroke="#3b3e49" stroke-width="1.05"><rect x="2.6" y="2.4" width="3.1" height="2.9"/><rect x="2.6" y="8" width="3.1" height="2.9"/><rect x="2.6" y="13.7" width="3.1" height="2.9"/></g></svg>
<div style="position:absolute;left:1807.1px;top:811.35px;width:10px;height:10px;background:#9170b8;border-radius:50%"></div>
<span class="t" style="left:1827.77px;top:804.63px;font-size:15.5px;line-height:20px;letter-spacing:0.430px;color:#343741;-webkit-text-stroke:.2px #343741;">coredns-6f6...</span>
<span class="t" style="left:1941.67px;top:804.63px;font-size:15.5px;line-height:20px;letter-spacing:0.403px;color:#343741;-webkit-text-stroke:.2px #343741;">8.70%</span>
<svg style="position:absolute;left:2000.3px;top:807.2px" width="8" height="18" viewBox="0 0 8 18"><g fill="none" stroke="#3b3e49" stroke-width="1.05"><rect x="2.6" y="2.4" width="3.1" height="2.9"/><rect x="2.6" y="8" width="3.1" height="2.9"/><rect x="2.6" y="13.7" width="3.1" height="2.9"/></g></svg>
<div style="position:absolute;left:566px;top:1168px;width:1240px;height:60px;border-radius:10px;box-shadow:0 0 40px 0 rgba(0,0,0,.3);z-index:20"></div>
<svg style="position:absolute;left:2033px;top:1154px;z-index:21" width="10" height="10" viewBox="0 0 10 10"><path d="M10 0 V10 H0.8 A9.2 10 0 0 0 10 0z" fill="#15140c"/></svg>
</div></body></html>
